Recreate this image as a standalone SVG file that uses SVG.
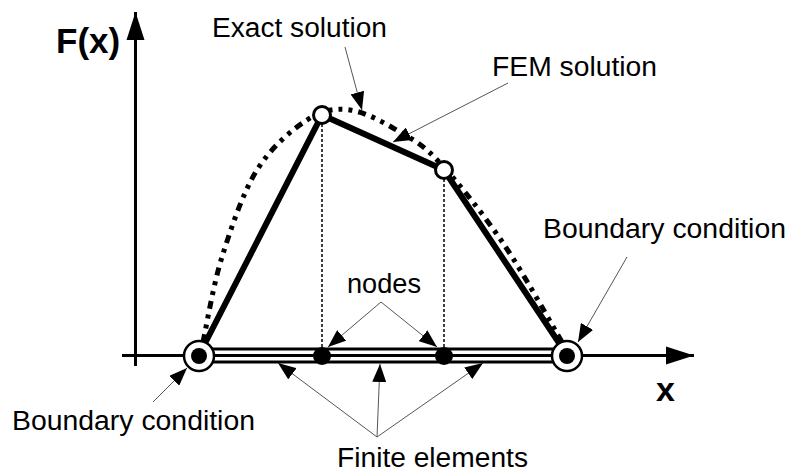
<svg xmlns="http://www.w3.org/2000/svg" width="789" height="473" viewBox="0 0 789 473">
  <style>
    .lbl { font-family: "Liberation Sans", Arial, sans-serif; font-size: 27px; fill: #000; }
    .axlbl { font-family: "Liberation Sans", Arial, sans-serif; font-weight: bold; fill: #000; }
    .axis { stroke: #000; stroke-width: 3; fill: none; }
    .ptr { stroke: #555; stroke-width: 1; fill: none; marker-end: url(#tip); }
    .fem { stroke: #000; stroke-width: 6; fill: none; stroke-linejoin: miter; }
    .exact { stroke: #000; stroke-width: 5; fill: none; stroke-dasharray: 8 6 4 6 4 6; }
    .drop { stroke: #000; stroke-width: 1.5; stroke-dasharray: 3 2; fill: none; }
    .elem { stroke: #000; stroke-width: 2.8; fill: none; }
    .open { fill: #fff; stroke: #000; stroke-width: 3; }
    .solid { fill: #000; }
    .bc { fill: #fff; stroke: #000; stroke-width: 2.5; }
  </style>
  <defs>
    <marker id="tip" markerUnits="userSpaceOnUse" markerWidth="18" markerHeight="14" refX="18" refY="7" orient="auto">
      <path d="M0,0 L18,7 L0,14 z" fill="#000"/>
    </marker>
    <marker id="axtip" markerUnits="userSpaceOnUse" markerWidth="28" markerHeight="20" refX="28" refY="10" orient="auto">
      <path d="M0,1 L28,10 L0,19 z" fill="#000"/>
    </marker>
  </defs>

  <!-- coordinate axes -->
  <g id="axes">
    <line class="axis" x1="135.5" y1="366" x2="135.5" y2="12" marker-end="url(#axtip)"/>
    <line class="axis" x1="122" y1="355.5" x2="694" y2="355.5" marker-end="url(#axtip)"/>
    <text class="axlbl" x="56" y="53" font-size="35">F(x)</text>
    <text class="axlbl" x="656" y="401" font-size="34">x</text>
  </g>

  <!-- finite element strip along the x axis -->
  <g id="elements">
    <line class="elem" x1="199" y1="349" x2="567" y2="349"/>
    <line class="elem" x1="199" y1="355.5" x2="567" y2="355.5"/>
    <line class="elem" x1="199" y1="362" x2="567" y2="362"/>
  </g>

  <!-- projections of the interior nodes -->
  <g id="drops">
    <line class="drop" x1="322" y1="124" x2="322" y2="348"/>
    <line class="drop" x1="444" y1="179" x2="444" y2="348"/>
  </g>

  <!-- exact solution curve -->
  <g id="exact-solution">
    <path class="exact" d="M203,342 C206.2,327.8 213,285.7 222,257 C231,228.3 242.8,192.8 257,170 C271.2,147.2 291.5,130 307,120 C322.5,110 334.5,108 350,110 C365.5,112 385,123.2 400,132 C415,140.8 422.8,144.5 440,163 C457.2,181.5 482.7,213.2 503,243 C523.3,272.8 552.2,325.5 562,342"/>
  </g>

  <!-- piecewise linear FEM solution -->
  <g id="fem-solution">
    <polyline class="fem" points="199,355 322,115 444,170 567,355"/>
  </g>

  <!-- nodes -->
  <g id="node-top-1"><circle class="open" cx="322" cy="115" r="8.5"/></g>
  <g id="node-top-2"><circle class="open" cx="444" cy="170" r="8.5"/></g>
  <g id="node-axis-1"><circle class="solid" cx="322" cy="356" r="9"/></g>
  <g id="node-axis-2"><circle class="solid" cx="444" cy="356" r="9"/></g>
  <g id="bc-left">
    <circle class="bc" cx="199" cy="356" r="15"/>
    <circle class="solid" cx="199" cy="356" r="8"/>
  </g>
  <g id="bc-right">
    <circle class="bc" cx="567" cy="356" r="15"/>
    <circle class="solid" cx="567" cy="356" r="8"/>
  </g>

  <!-- pointer lines -->
  <g id="connectors">
    <line class="ptr" x1="345" y1="47" x2="362" y2="110"/>
    <line class="ptr" x1="508" y1="83" x2="393" y2="142"/>
    <line class="ptr" x1="381" y1="302" x2="328" y2="347"/>
    <line class="ptr" x1="381" y1="302" x2="437" y2="347"/>
    <line class="ptr" x1="153" y1="402" x2="187" y2="368"/>
    <line class="ptr" x1="627" y1="257" x2="578" y2="342"/>
    <line class="ptr" x1="377" y1="437" x2="278" y2="363"/>
    <line class="ptr" x1="377" y1="437" x2="380" y2="364"/>
    <line class="ptr" x1="377" y1="437" x2="483" y2="363"/>
  </g>

  <!-- labels -->
  <g id="label-exact"><text class="lbl" x="212" y="37" textLength="175" lengthAdjust="spacingAndGlyphs">Exact solution</text></g>
  <g id="label-fem"><text class="lbl" x="492" y="76" textLength="165" lengthAdjust="spacingAndGlyphs">FEM solution</text></g>
  <g id="label-nodes"><text class="lbl" x="347" y="293" textLength="74" lengthAdjust="spacingAndGlyphs">nodes</text></g>
  <g id="label-bc-left"><text class="lbl" x="12" y="430" textLength="243" lengthAdjust="spacingAndGlyphs">Boundary condition</text></g>
  <g id="label-bc-right"><text class="lbl" x="543" y="238" textLength="243" lengthAdjust="spacingAndGlyphs">Boundary condition</text></g>
  <g id="label-elements"><text class="lbl" x="337" y="467" textLength="191" lengthAdjust="spacingAndGlyphs">Finite elements</text></g>
</svg>
